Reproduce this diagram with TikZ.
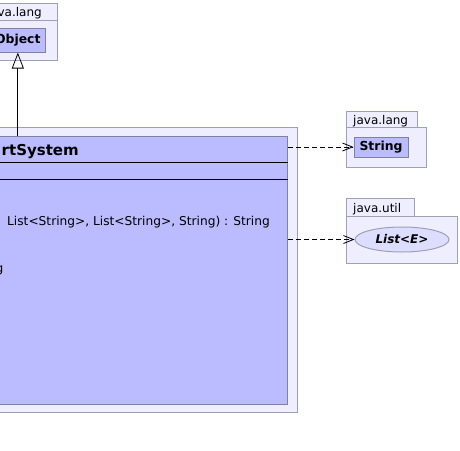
\documentclass[tikz,border=0pt]{standalone}
\usepackage{fontspec}
\setmainfont{DejaVu Sans}
\usetikzlibrary{arrows.meta,shapes.geometric}

\definecolor{pkgfill}{RGB}{238,238,255}
\definecolor{pkgline}{RGB}{160,160,180}
\definecolor{clsfill}{RGB}{187,187,255}
\definecolor{clsline}{RGB}{128,128,160}
\definecolor{ifcfill}{RGB}{221,221,255}

\begin{document}
\begin{tikzpicture}[
    x=1pt, y=-1pt,
    pkg/.style={draw=pkgline, fill=pkgfill, line width=1pt},
    pkglabel/.style={inner sep=0pt, font=\fontsize{12}{14}\selectfont},
    cls/.style={draw=clsline, fill=clsfill, line width=1pt, inner sep=0pt},
    clsname/.style={rectangle, draw=clsline, fill=clsfill, line width=1pt, inner xsep=5pt, minimum height=20pt, font=\fontsize{12.4}{14}\selectfont\bfseries},
    ifc/.style={ellipse, draw=pkgline, fill=ifcfill, line width=1pt, inner sep=0pt, minimum width=94pt, minimum height=25pt, font=\fontsize{12}{14}\selectfont\bfseries\itshape},
    member/.style={inner sep=0pt, font=\fontsize{12.2}{14}\selectfont},
    dep/.style={-{Straight Barb[length=10pt,width=8pt]}, dash pattern=on 5pt off 3pt, line width=0.8pt},
    inherit/.style={-{Triangle[open,length=16pt,width=12pt]}, line width=0.8pt}
]
    \useasboundingbox (0,0) rectangle (460,450);
    \clip (0,0) rectangle (460,450);

    % java.lang, top left
    \draw[pkg] (-30,3) rectangle (57,20);
    \draw[pkg] (-30,20) rectangle (57,60);
    \node[pkglabel, anchor=base east] (langtop) at (42,16.5) {java.lang};
    \node[clsname, minimum height=24pt, anchor=east] (object) at (46,40) {Object};

    % package of the class
    \draw[pkg] (-80,127) rectangle (297,412);
    \node[cls, minimum width=340pt, minimum height=268pt, anchor=north east] (report) at (288,136) {};
    \node[inner sep=0pt, anchor=base east, font=\fontsize{15}{18}\selectfont\bfseries] (title) at (79,155) {rtSystem};
    \draw[line width=0.8pt] (report.west |- 0,162.5) -- (report.east |- 0,162.5);
    \draw[line width=0.8pt] (report.west |- 0,179) -- (report.east |- 0,179);
    \node[member, anchor=base west] (method) at (7,225.5) {List<String>, List<String>, String) : String};
    \node[member, anchor=base east] (tail) at (3.5,272) {g};

    % java.lang, right
    \draw[pkg] (346,111) rectangle (417,127);
    \draw[pkg] (346,127) rectangle (426,167);
    \node[pkglabel, anchor=base west] (langright) at (353,124.3) {java.lang};
    \node[clsname, minimum width=54pt] (string) at (381,147) {String};

    % java.util
    \draw[pkg] (346,198) rectangle (414,216);
    \draw[pkg] (346,216) rectangle (457,263);
    \node[pkglabel, anchor=base west] (util) at (353,212.5) {java.util};
    \node[ifc] (list) at (402,239.5) {List<E>};

    \draw[inherit] (report.north -| object.south) -- (object.south);
    \draw[dep] (report.east |- string) -- (string);
    \draw[dep] (report.east |- list) -- (list);
\end{tikzpicture}
\end{document}
